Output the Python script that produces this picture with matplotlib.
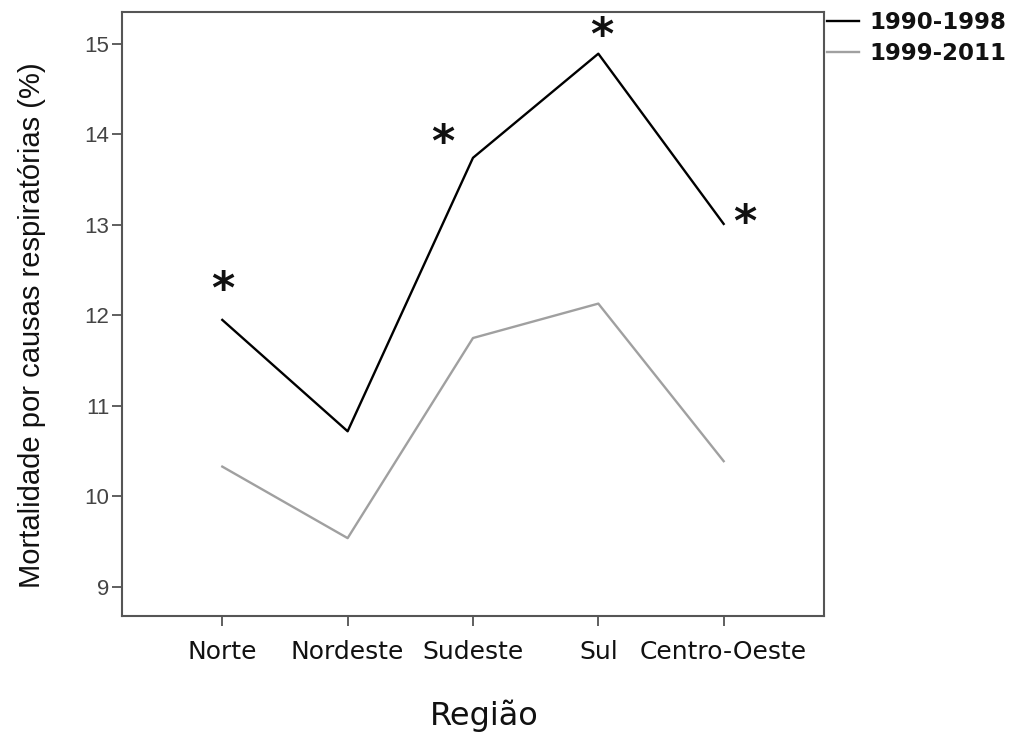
import matplotlib.pyplot as plt
import numpy as np

regioes = ['Norte', 'Nordeste', 'Sudeste', 'Sul', 'Centro-Oeste']
p1990_1998 = [11.95, 10.72, 13.74, 14.89, 13.01]
p1999_2011 = [10.33, 9.54, 11.75, 12.13, 10.39]

# posições dos asteriscos (x em índice de região, y em %)
ast_x = [0.0, 1.76, 3.03, 4.17]
ast_y = [12.27, 13.90, 15.08, 13.02]

fig = plt.figure(figsize=(10.21, 7.33), dpi=100)
ax = fig.add_axes([0.1195, 0.1596, 0.6875, 0.824])

x = np.arange(len(regioes))
ax.plot(x, p1990_1998, color='black', lw=1.7, label='1990-1998')
ax.plot(x, p1999_2011, color='#a0a0a0', lw=1.7, label='1999-2011')

for xa, ya in zip(ast_x, ast_y):
    ax.text(xa, ya, '*', fontsize=32, fontweight='bold', ha='center', va='center', color='#111111')

ax.set_xlim(-0.8, 4.8)
ax.set_ylim(8.68, 15.35)
ax.set_yticks(range(9, 16))
ax.set_yticklabels([str(v) for v in range(9, 16)], family=['Liberation Sans', 'DejaVu Sans'],
                   fontsize=16, color='#444444')
ax.set_xticks(x)
ax.set_xticklabels(regioes, fontsize=18, color='#111111')
ax.tick_params(axis='both', direction='out', length=7, width=1.2, color='#444444')
ax.tick_params(axis='x', pad=10)
ax.tick_params(axis='y', pad=2)

for s in ax.spines.values():
    s.set_color('#555555')
    s.set_linewidth(1.5)

ax.set_xlabel('Região', fontsize=23, labelpad=26, color='#111111')
ax.xaxis.label.set_x(0.516)
ax.set_ylabel('Mortalidade por causas respiratórias (%)',
              family=['Liberation Sans', 'DejaVu Sans'],
              fontsize=21, color='#111111')
ax.yaxis.set_label_coords(-0.108, 0.482)

leg = ax.legend(loc='upper left', bbox_to_anchor=(1.0, 1.008), frameon=False,
                fontsize=16.5, handlelength=1.4, handletextpad=0.45, labelspacing=0.35,
                borderaxespad=0, borderpad=0.15)
for t in leg.get_texts():
    t.set_fontweight('bold')
    t.set_color('#111111')

fig.savefig('out.png', dpi=100)
